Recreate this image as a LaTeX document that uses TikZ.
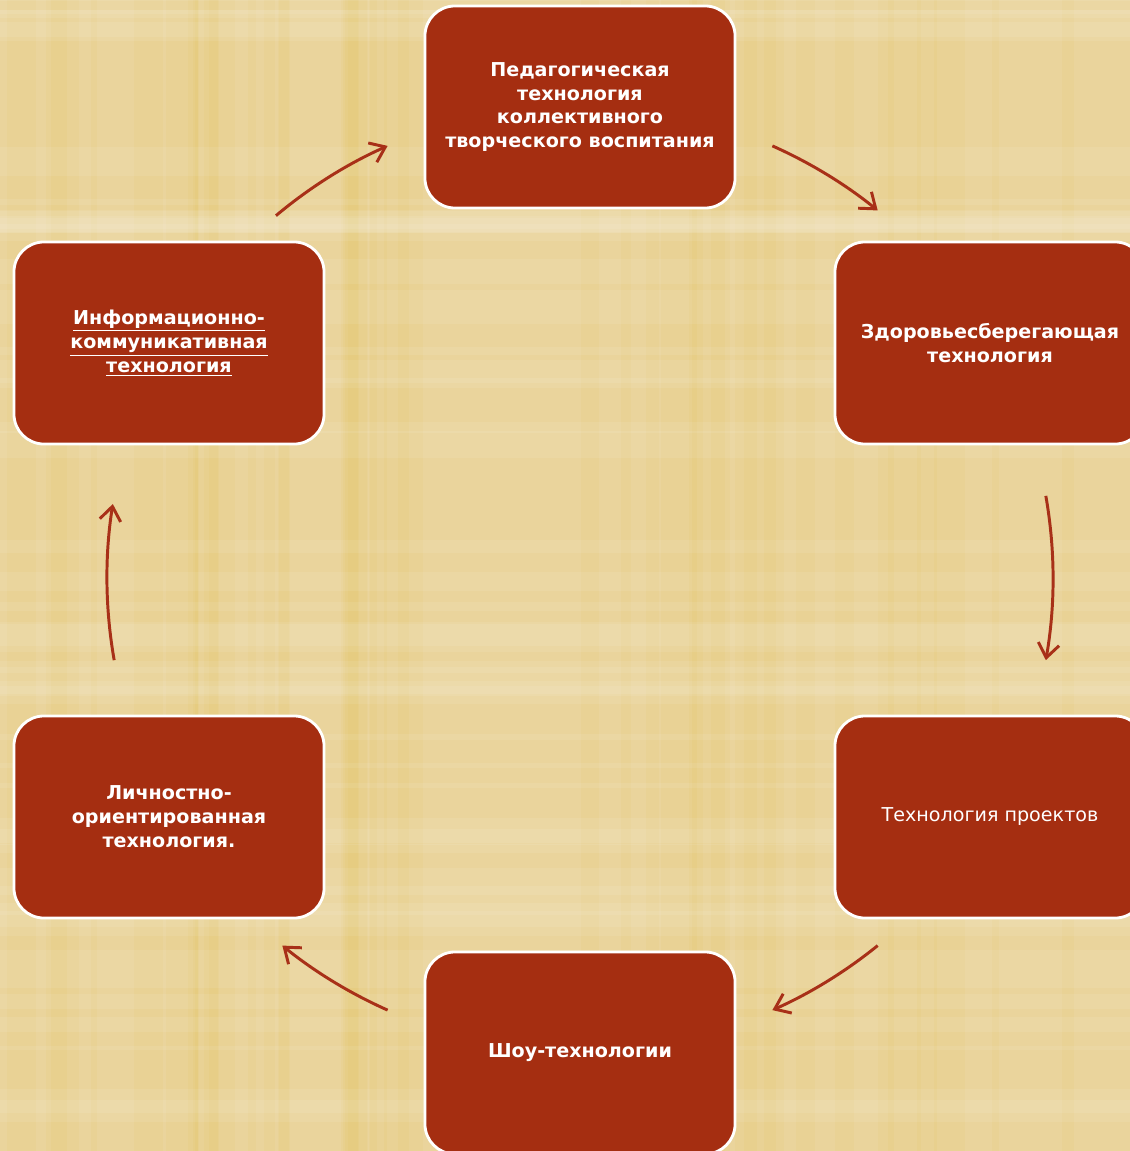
\documentclass[tikz,border=0pt]{standalone}
\usepackage{fontspec}
\setmainfont{DejaVu Sans}
\usepackage{tikz}
\usetikzlibrary{arrows.meta}

\definecolor{parchment}{RGB}{234,212,156}
\definecolor{boxred}{RGB}{165,46,17}
\definecolor{arrowred}{RGB}{168,48,24}

\tikzset{
    techbox/.style={
        rectangle, rounded corners=0.75cm, fill=boxred, draw=white,
        line width=2pt, minimum width=7.75cm, minimum height=5.05cm,
        text=white, align=center, font=\bfseries\fontsize{13.6pt}{17pt}\selectfont
    },
    cyclearrow/.style={
        draw=arrowred, line width=2.1pt,
        -{Straight Barb[length=10pt,width=15pt,line width=2.1pt]}
    }
}

\begin{document}
\begin{tikzpicture}[x=0.025cm, y=0.025cm]
        \useasboundingbox (0,0) rectangle (1130,-1151);
        \fill[parchment] (0,0) rectangle (1130,-1151);

        % texture
        \pgfmathsetseed{11}
        \foreach \i in {1,...,45} {
            \pgfmathsetmacro{\px}{rnd*1130}
            \pgfmathsetmacro{\pw}{4+rnd*30}
            \fill[brown!60!yellow, opacity=0.06] (\px,0) rectangle ++(\pw,-1151);
        }
        \foreach \i in {1,...,45} {
            \pgfmathsetmacro{\py}{-rnd*1151}
            \pgfmathsetmacro{\ph}{4+rnd*30}
            \fill[white, opacity=0.08] (0,\py) rectangle ++(1130,\ph);
        }

        \coordinate (c) at (580,-578);

        \node[techbox] (ped) at (580,-107)
            {Педагогическая\\технология\\коллективного\\творческого воспитания};
        \node[techbox] (zdorov) at (990,-343)
            {Здоровьесберегающая\\технология};
        \node[techbox, font=\fontsize{13.6pt}{17pt}\selectfont] (proekt) at (990,-817)
            {Технология проектов};
        \node[techbox] (shou) at (580,-1053)
            {Шоу-технологии};
        \node[techbox] (lichn) at (169,-817)
            {Личностно-\\ориентированная\\технология.};
        \node[techbox] (inform) at (169,-343)
            {\underline{Информационно-}\\\underline{коммуникативная}\\\underline{технология}};

        \begin{scope}[cyclearrow]
            \foreach \a/\b in {130/114, 66/51, 10/-10, -51/-66, -114/-129, -170/-189} {
                \draw ([shift={(\a:473)}]c) arc[start angle=\a, end angle=\b, radius=473];
            }
        \end{scope}
    \end{tikzpicture}
\end{document}
